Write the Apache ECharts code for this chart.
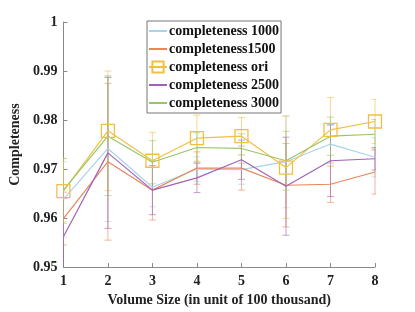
<!DOCTYPE html>
<html><head><meta charset="utf-8">
<script src="https://cdn.jsdelivr.net/npm/echarts@6/dist/echarts.min.js"></script>
<style>html,body{margin:0;padding:0;background:#fff}#c{width:415px;height:312px}</style>
</head><body><div id="c"></div>
<script>
const xValues = [1,2,3,4,5,6,7,8];
const yTicks = [0.95,0.96,0.97,0.98,0.99,1];
const names = ['completeness 1000','completeness1500','completeness ori','completeness 2500','completeness 3000'];
const c1000 = [0.9638,0.9742,0.9663,0.9700,0.9699,0.9715,0.9751,0.9724];
const e1000 = [0.0077,0.0149,0.0040,0.0025,0.0030,0.0094,0.0040,0.0040];
const c1500 = [0.9599,0.9715,0.9657,0.9702,0.9702,0.9667,0.9669,0.9694];
const e1500 = [0.0054,0.0160,0.0061,0.0033,0.0045,0.0085,0.0037,0.0045];
const cOri  = [0.9655,0.9778,0.9717,0.9763,0.9767,0.9703,0.9780,0.9797];
const eOri  = [0.0066,0.0122,0.0058,0.0047,0.0038,0.0104,0.0066,0.0045];
const c2500 = [0.9562,0.9733,0.9657,0.9682,0.9719,0.9665,0.9717,0.9721];
const e2500 = [0.0078,0.0154,0.0050,0.0030,0.0040,0.0100,0.0073,0.0023];
const c3000 = [0.9657,0.9767,0.9714,0.9744,0.9742,0.9717,0.9767,0.9771];
const e3000 = [0.0065,0.0121,0.0044,0.0030,0.0030,0.0060,0.0039,0.0030];

const colors = ['#a8d2f0','#e8865a','#f2bf45','#a163b8','#98c667'];
const vals = [c1000,c1500,cOri,c2500,c3000];
const errs = [e1000,e1500,eOri,e2500,e3000];
const font = '"Liberation Serif","Times New Roman",serif';

const series = [];
vals.forEach((v,i)=>{
  series.push({
    type:'custom', name: names[i] + ' (error)', clip:true, z:1, silent:true,
    data: xValues.map((x,j)=>[x, v[j]-errs[i][j], v[j]+errs[i][j]]),
    encode:{x:0,y:[1,2]},
    renderItem:function(params, api){
      const lo = api.coord([api.value(0), api.value(1)]);
      const hi = api.coord([api.value(0), api.value(2)]);
      const w = 3.5;
      const st = {stroke: colors[i], lineWidth:1, opacity:0.6};
      return {type:'group', children:[
        {type:'line', shape:{x1:lo[0],y1:lo[1],x2:hi[0],y2:hi[1]}, style:st},
        {type:'line', shape:{x1:lo[0]-w,y1:lo[1],x2:lo[0]+w,y2:lo[1]}, style:st},
        {type:'line', shape:{x1:hi[0]-w,y1:hi[1],x2:hi[0]+w,y2:hi[1]}, style:st}
      ]};
    }
  });
});
vals.forEach((v,i)=>{
  const isOri = i===2;
  series.push({
    type:'line', name: names[i], z:3,
    data: xValues.map((x,j)=>[x, v[j]]),
    symbol: isOri ? 'rect' : 'none',
    symbolSize: 13,
    showSymbol: isOri,
    lineStyle:{color:colors[i], width:1.2},
    itemStyle:{color: isOri ? 'rgba(0,0,0,0)' : colors[i], borderColor:colors[i], borderWidth:1.3},
    emphasis:{disabled:true}, animation:false
  });
});

const legendData = names.map((n,i)=> i===2 ? {name:n} :
  {name:n, itemStyle:{color:'rgba(0,0,0,0)', borderWidth:0, opacity:0}});

const chart = echarts.init(document.getElementById('c'), null, {renderer:'canvas'});
chart.setOption({
  animation:false,
  color: colors,
  grid:{left:54, right:40, top:22, bottom:43, containLabel:false},
  xAxis:{
    type:'value', min:1, max:8, interval:1,
    name:'Volume Size (in unit of 100 thousand)', nameLocation:'middle', nameGap:23,
    nameTextStyle:{fontFamily:font, fontWeight:'bold', fontSize:14, color:'#222'},
    axisLine:{show:true, lineStyle:{color:'#888', width:1}},
    axisTick:{show:true, inside:true, length:4, lineStyle:{color:'#888'}},
    axisLabel:{fontFamily:font, fontWeight:'bold', fontSize:14, color:'#222', margin:7},
    splitLine:{show:false}
  },
  yAxis:{
    type:'value', min:yTicks[0], max:yTicks[yTicks.length-1], interval:0.01,
    name:'Completeness', nameLocation:'middle', nameGap:38,
    nameTextStyle:{fontFamily:font, fontWeight:'bold', fontSize:14, color:'#222'},
    axisLine:{show:true, lineStyle:{color:'#888', width:1}},
    axisTick:{show:true, inside:true, length:4, lineStyle:{color:'#888'}},
    axisLabel:{fontFamily:font, fontWeight:'bold', fontSize:14, color:'#222', margin:6,
      formatter:function(v){return String(Math.round(v*100)/100);}},
    splitLine:{show:false}
  },
  legend:{
    data: legendData,
    orient:'vertical', left:147, top:21,
    backgroundColor:'#fff', borderColor:'#777', borderWidth:1,
    padding:[3,2,3,1], itemGap:4, itemWidth:18, itemHeight:14,
    textStyle:{fontFamily:font, fontWeight:'bold', fontSize:14, color:'#111', padding:[0,0,0,-3]}
  },
  series: series
});
</script></body></html>
